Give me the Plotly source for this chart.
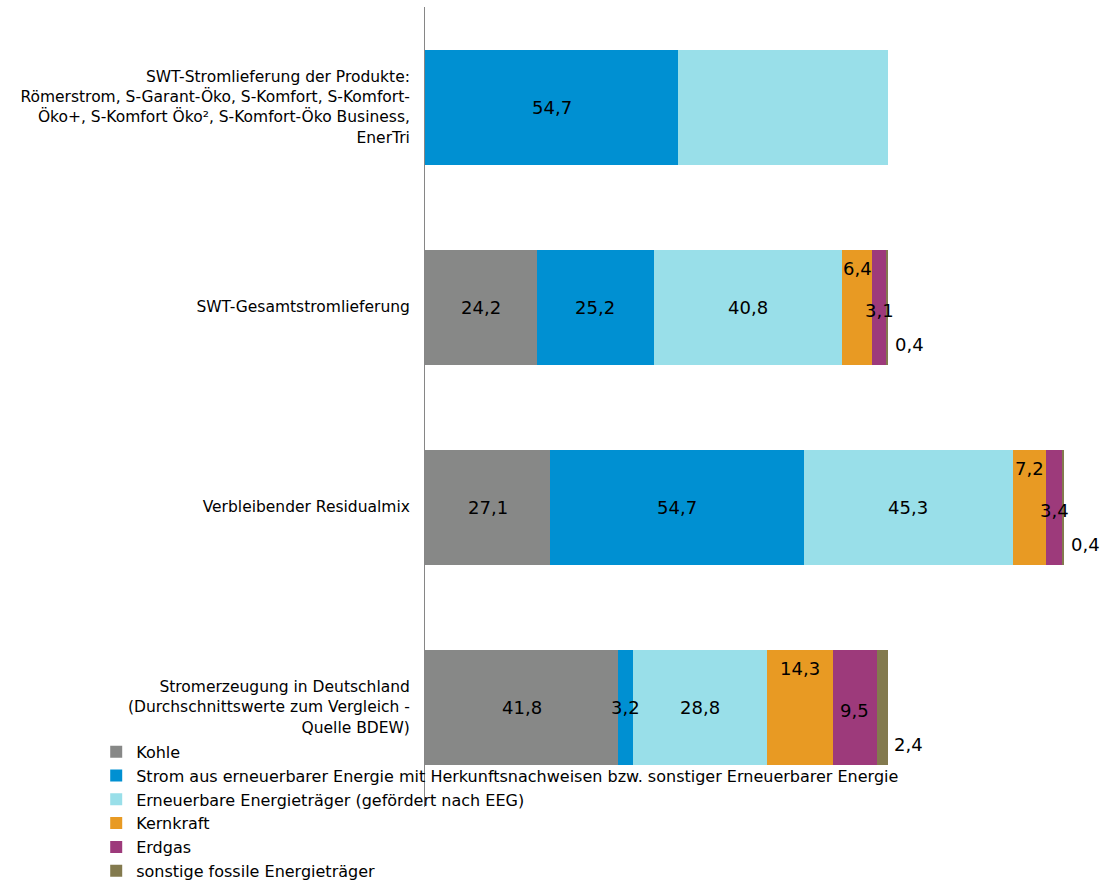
import plotly.graph_objects as go
import numpy as np

categories = [
    "SWT-Stromlieferung der Produkte:<br>Römerstrom, S-Garant-Öko, S-Komfort, S-Komfort-<br>Öko+, S-Komfort Öko², S-Komfort-Öko Business,<br>EnerTri",
    "SWT-Gesamtstromlieferung",
    "Verbleibender Residualmix",
    "Stromerzeugung in Deutschland<br>(Durchschnittswerte zum Vergleich -<br>Quelle BDEW)",
]
series_names = [
    "Kohle",
    "Strom aus erneuerbarer Energie mit Herkunftsnachweisen bzw. sonstiger Erneuerbarer Energie",
    "Erneuerbare Energieträger (gefördert nach EEG)",
    "Kernkraft",
    "Erdgas",
    "sonstige fossile Energieträger",
]
kohle = [0, 24.2, 27.1, 41.8]
strom_hkn = [54.7, 25.2, 54.7, 3.2]
eeg = [45.3, 40.8, 45.3, 28.8]
kernkraft = [0, 6.4, 7.2, 14.3]
erdgas = [0, 3.1, 3.4, 9.5]
sonstige = [0, 0.4, 0.4, 2.4]
# which values carry a data label (first bar's EEG share is unlabeled)
show_label = [
    [False, True, True, True],
    [True, True, True, True],
    [False, True, True, True],
    [False, True, True, True],
    [False, True, True, True],
    [False, True, True, True],
]
colors = ["#878887", "#0090d2", "#99dfe9", "#e89a23", "#9d3a7b", "#837a4e"]
label_yshift = [0, 0, 0, 39, -3, -37]

values = [kohle, strom_hkn, eeg, kernkraft, erdgas, sonstige]
font_family = "DejaVu Sans"

fig = go.Figure()
for name, vals, col in zip(series_names, values, colors):
    fig.add_trace(go.Bar(
        y=categories, x=vals, orientation="h", name=name,
        marker=dict(color=col, line=dict(width=0)),
        width=0.575, hoverinfo="x+name",
    ))

annotations = []
cum = np.zeros(len(categories))
for si, vals in enumerate(values):
    for ci, v in enumerate(vals):
        if show_label[si][ci]:
            txt = f"{v:.1f}".replace(".", ",")
            if si == 5:
                ax = cum[ci] + v
                xshift = 21
            else:
                ax = cum[ci] + v / 2
                xshift = 0
            annotations.append(dict(
                x=ax, y=categories[ci], xref="x", yref="y", text=txt,
                showarrow=False, xanchor="center", yanchor="middle",
                xshift=xshift, yshift=label_yshift[si],
                font=dict(family=font_family, size=18, color="#000000"),
            ))
    cum += np.array(vals)

fig.update_layout(
    width=1101, height=888,
    barmode="stack",
    paper_bgcolor="white", plot_bgcolor="white",
    margin=dict(l=425, r=5, t=7, b=81, autoexpand=False),
    font=dict(family=font_family, size=15.5, color="#000000"),
    xaxis=dict(range=[0, 145], visible=False, showgrid=False, zeroline=False),
    yaxis=dict(
        categoryorder="array", categoryarray=categories, autorange="reversed",
        showline=True, linecolor="#868686", linewidth=1, automargin=False,
        showgrid=False, zeroline=False, ticks="", ticklabelstandoff=11,
        tickfont=dict(family=font_family, size=15.5, color="#000000"),
    ),
    legend=dict(
        x=-0.49, xanchor="left", y=-0.101, yanchor="bottom",
        traceorder="normal", bgcolor="rgba(0,0,0,0)",
        font=dict(family=font_family, size=16, color="#000000"),
        itemclick=False,
    ),
    annotations=annotations,
    bargap=0.425,
)

fig.write_html("out.html", config={"displayModeBar": False},
               post_script="document.body.style.margin='0';")
